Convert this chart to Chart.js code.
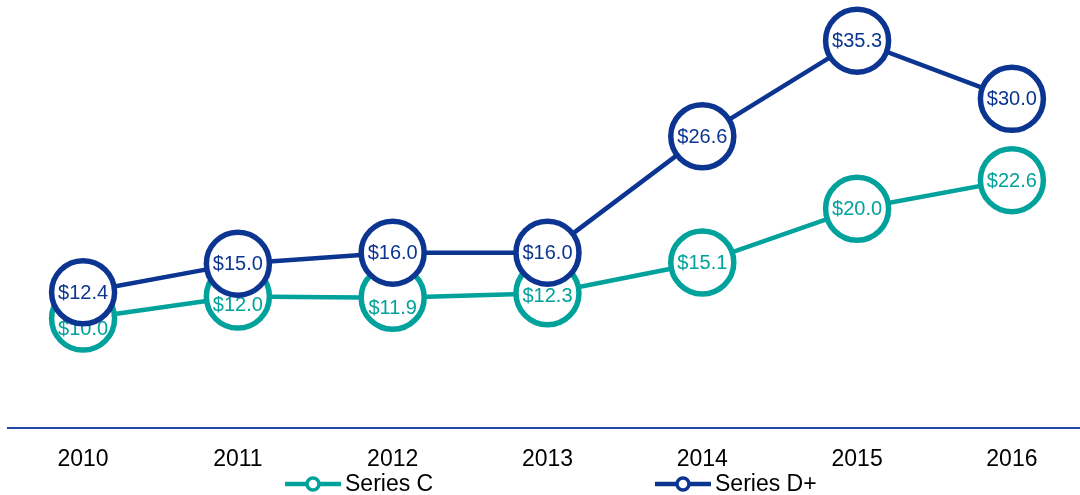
<!DOCTYPE html>
<html>
<head>
<meta charset="utf-8">
<script src="https://cdn.jsdelivr.net/npm/chart.js@4.4.0/dist/chart.umd.min.js"></script>
<style>
  html, body { margin: 0; padding: 0; background: #fff; }
  #wrap { width: 1080px; height: 495px; }
</style>
</head>
<body>
<div id="wrap"><canvas id="lineChart" width="1080" height="495"></canvas></div>
<script>
// data
const years = [2010, 2011, 2012, 2013, 2014, 2015, 2016];
const seriesC = [10.0, 12.0, 11.9, 12.3, 15.1, 20.0, 22.6];
const seriesD = [12.4, 15.0, 16.0, 16.0, 26.6, 35.3, 30.0];
const seriesNames = ["Series C", "Series D+"];

// colors
const teal = "#00A29B";
const navy = "#0C3592";
const FONT = "'Liberation Sans', Arial, sans-serif";

// labels of the lower series are nudged down where the circles overlap
const labelNudge = [[10, 8, 10, 2, 0, 0, 0], [0, 0, 0, 0, 0, 0, 0]];

const toPoints = (vals) => vals.map((v, i) => ({ x: years[i], y: v }));

// value labels inside the circles
const valueLabels = {
  id: "valueLabels",
  afterDatasetDraw(chart, args) {
    const ds = chart.data.datasets[args.index];
    const ctx = chart.ctx;
    ctx.save();
    ctx.font = "20px " + FONT;
    ctx.fillStyle = ds.borderColor;
    ctx.textAlign = "center";
    ctx.textBaseline = "middle";
    args.meta.data.forEach((pt, i) => {
      const dy = labelNudge[args.index][i];
      ctx.fillText("$" + ds.data[i].y.toFixed(1), pt.x, pt.y + 1 + dy);
    });
    ctx.restore();
  }
};

// legend drawn below the axis labels
const bottomLegend = {
  id: "bottomLegend",
  afterDraw(chart) {
    const ctx = chart.ctx;
    const starts = [285, 655];
    const y = 484;
    ctx.save();
    chart.data.datasets.forEach((ds, i) => {
      const x = starts[i];
      ctx.strokeStyle = ds.borderColor;
      ctx.lineWidth = 4.5;
      ctx.beginPath();
      ctx.moveTo(x, y);
      ctx.lineTo(x + 56, y);
      ctx.stroke();
      ctx.beginPath();
      ctx.arc(x + 28, y, 6, 0, Math.PI * 2);
      ctx.fillStyle = "#fff";
      ctx.fill();
      ctx.lineWidth = 3.5;
      ctx.stroke();
      ctx.fillStyle = "#000";
      ctx.font = "23px " + FONT;
      ctx.textAlign = "left";
      ctx.textBaseline = "middle";
      ctx.fillText(ds.label, x + 60, y + 1);
    });
    ctx.restore();
  }
};

const lineStyle = (color) => ({
  borderColor: color,
  backgroundColor: color,
  borderWidth: 4.5,
  pointRadius: 31.5,
  pointHoverRadius: 31.5,
  pointBorderWidth: 5.5,
  pointHoverBorderWidth: 5.5,
  pointBackgroundColor: "#fff",
  pointBorderColor: color,
  tension: 0,
  clip: false
});

new Chart(document.getElementById("lineChart"), {
  type: "line",
  data: {
    datasets: [
      { label: seriesNames[0], data: toPoints(seriesC), order: 1, ...lineStyle(teal) },
      { label: seriesNames[1], data: toPoints(seriesD), order: 0, ...lineStyle(navy) }
    ]
  },
  options: {
    responsive: false,
    animation: false,
    devicePixelRatio: 1,
    layout: { autoPadding: false, padding: { left: 8, right: 0, top: 0, bottom: 5 } },
    plugins: {
      legend: { display: false },
      tooltip: { enabled: false }
    },
    scales: {
      x: {
        type: "linear",
        min: 2009.515,
        max: 2016.44,
        grid: { display: false, drawTicks: false },
        border: { display: true, color: "#2348A3", width: 2 },
        ticks: {
          stepSize: 1,
          includeBounds: false,
          autoSkip: false,
          maxRotation: 0,
          padding: 17,
          color: "#000",
          font: { size: 23, family: FONT },
          callback: (v) => (Number.isInteger(v) ? String(v) : "")
        }
      },
      y: {
        display: false,
        min: 0,
        max: 39
      }
    }
  },
  plugins: [valueLabels, bottomLegend]
});
</script>
</body>
</html>
